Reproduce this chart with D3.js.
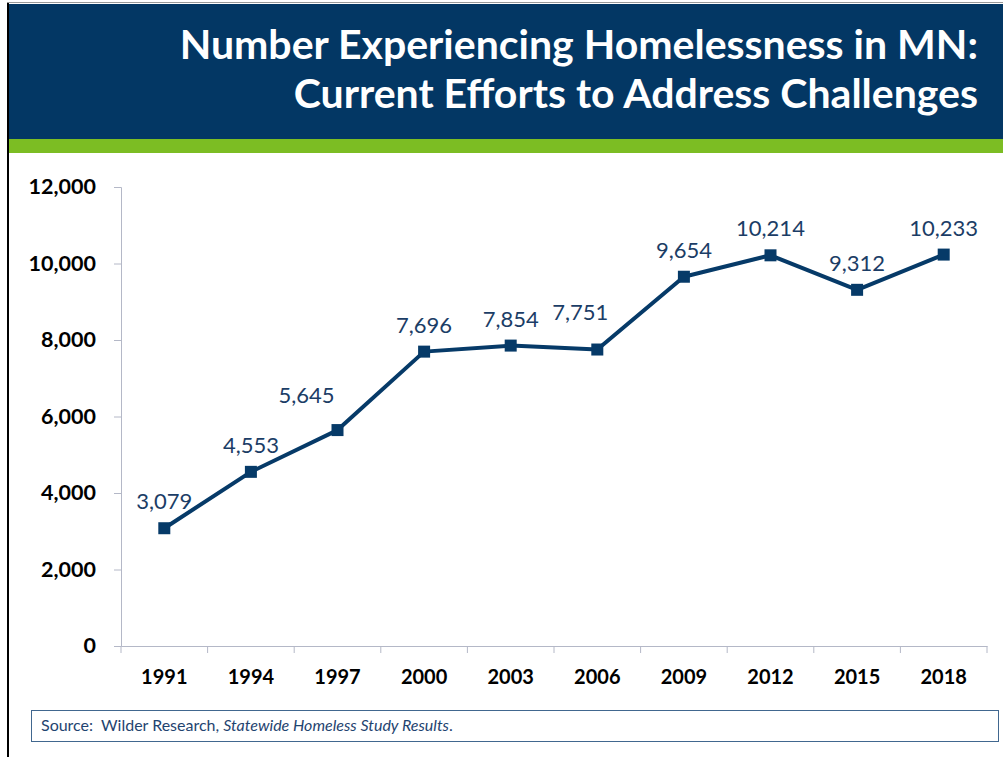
<!DOCTYPE html>
<html>
<head>
<meta charset="utf-8">
<script src="https://cdn.jsdelivr.net/npm/d3@7"></script>
<style>
  html, body { margin: 0; padding: 0; background: #fff; }
  svg { display: block; font-family: Lato, "Open Sans", sans-serif; }
</style>
</head>
<body>
<div id="chart"></div>
<script>
// data
var years = ["1991", "1994", "1997", "2000", "2003", "2006", "2009", "2012", "2015", "2018"];
var counts = [3079, 4553, 5645, 7696, 7854, 7751, 9654, 10214, 9312, 10233];
var yTicks = [0, 2000, 4000, 6000, 8000, 10000, 12000];
var titleLines = ["Number Experiencing Homelessness in MN:", "Current Efforts to Address Challenges"];

// a couple of labels were dragged off-centre in the original
var labelNudge = [[0, 0], [0, 0], [-31, -8], [0, 0], [0, 0], [-17, -11], [0, 0], [0, 0], [0, 0], [0, 0]];

var W = 1003, H = 757;
var navy = "#033764", green = "#7cbd23", lineCol = "#063a68";

// plot area
var margin = { top: 187, right: 16, bottom: 111, left: 121 },
    width = W - margin.left - margin.right,
    height = H - margin.top - margin.bottom;

var root = d3.select("#chart").append("svg")
    .attr("width", W)
    .attr("height", H);

// slide frame + header
root.append("line").attr("x1", 7).attr("x2", W).attr("y1", 2.5).attr("y2", 2.5)
    .attr("stroke", "#9a9a9a").attr("stroke-width", 1);
root.append("rect").attr("x", 9).attr("y", 4).attr("width", W - 9).attr("height", 135).attr("fill", navy);
root.append("rect").attr("x", 9).attr("y", 139).attr("width", W - 9).attr("height", 14).attr("fill", green);
root.append("line").attr("x1", 8).attr("x2", 8).attr("y1", 3).attr("y2", H)
    .attr("stroke", "#000").attr("stroke-width", 2);

root.selectAll("text.title")
    .data(titleLines)
    .enter()
    .append("text")
    .attr("class", "title")
    .attr("x", 978)
    .attr("y", function (d, i) { return 59 + i * 49; })
    .attr("text-anchor", "end")
    .attr("fill", "#fff")
    .attr("font-size", 41)
    .attr("font-weight", "bold")
    .text(function (d) { return d; });

var svg = root.append("g")
    .attr("transform", "translate(" + margin.left + "," + margin.top + ")");

var x = d3.scaleBand()
    .domain(years)
    .range([0, width]);

var y = d3.scaleLinear()
    .domain([0, 12000])
    .range([height, 0]);

// Y axis
var yAxis = svg.append("g")
    .call(d3.axisLeft(y).tickValues(yTicks).tickSize(7).tickPadding(18).tickFormat(d3.format(",")));
yAxis.selectAll("path, line").attr("stroke", "#b4b8c7");
yAxis.selectAll("text")
    .attr("fill", "#000")
    .attr("font-size", 21.5)
    .attr("font-weight", "bold")
    .attr("font-family", "Lato, sans-serif");

// X axis, ticks sit on the band edges
var xAxis = svg.append("g")
    .attr("transform", "translate(0," + height + ")")
    .call(d3.axisBottom(x).tickSize(0).tickPadding(24));
xAxis.select(".domain").attr("stroke", "#b4b8c7");
xAxis.selectAll("text")
    .attr("fill", "#000")
    .attr("font-size", 20)
    .attr("font-weight", "bold")
    .attr("font-family", "Lato, sans-serif");
svg.selectAll("xticks")
    .data(years.concat(["end"]))
    .enter()
    .append("line")
    .attr("x1", function (d, i) { return i * x.bandwidth(); })
    .attr("x2", function (d, i) { return i * x.bandwidth(); })
    .attr("y1", height)
    .attr("y2", height + 7)
    .attr("stroke", "#b4b8c7");

// line
var line = d3.line()
    .x(function (d, i) { return x(years[i]) + x.bandwidth() / 2; })
    .y(function (d) { return y(d); });

svg.append("path")
    .datum(counts)
    .attr("d", line)
    .attr("fill", "none")
    .attr("stroke", lineCol)
    .attr("stroke-width", 4)
    .attr("stroke-linejoin", "round");

// square markers
svg.selectAll("mysquare")
    .data(counts)
    .enter()
    .append("rect")
    .attr("x", function (d, i) { return x(years[i]) + x.bandwidth() / 2 - 6; })
    .attr("y", function (d) { return y(d) - 6; })
    .attr("width", 12)
    .attr("height", 12)
    .attr("fill", lineCol);

// value labels
svg.selectAll("mylabel")
    .data(counts)
    .enter()
    .append("text")
    .attr("x", function (d, i) { return x(years[i]) + x.bandwidth() / 2 + labelNudge[i][0]; })
    .attr("y", function (d, i) { return y(d) - 19 + labelNudge[i][1]; })
    .attr("text-anchor", "middle")
    .attr("fill", "#1b3d66")
    .attr("font-size", 22)
    .text(d3.format(","));

// source box
root.append("rect")
    .attr("x", 31.5).attr("y", 710.5).attr("width", 967).attr("height", 31)
    .attr("fill", "#fff").attr("stroke", "#41678f").attr("stroke-width", 1);
var src = root.append("text")
    .attr("x", 41).attr("y", 731)
    .attr("fill", "#1f4470")
    .attr("font-size", 16);
src.append("tspan").text("Source:\u00a0 Wilder Research, ");
src.append("tspan").attr("font-style", "italic").text("Statewide Homeless Study Results");
src.append("tspan").text(".");
</script>
</body>
</html>
